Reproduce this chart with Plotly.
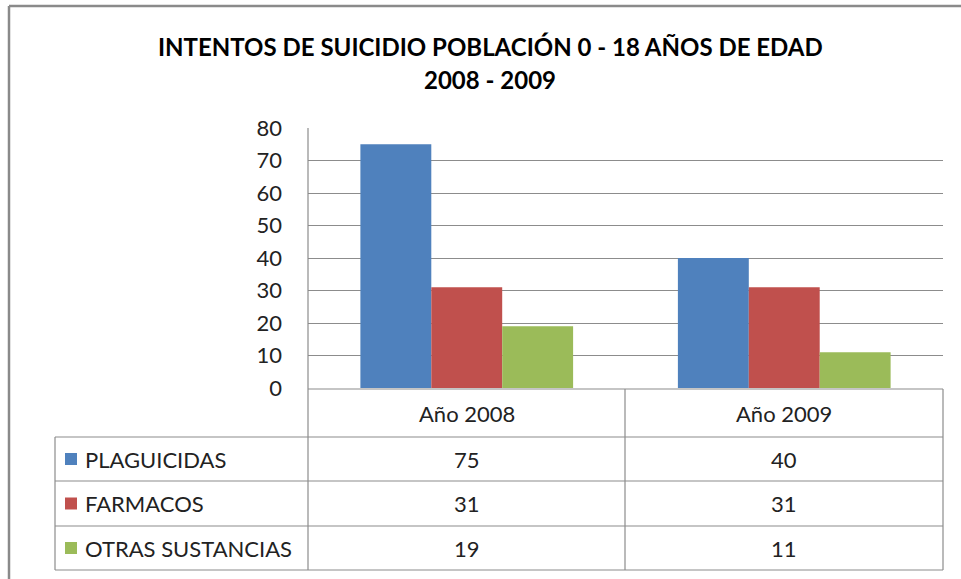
import plotly.graph_objects as go

categories = ["Año 2008", "Año 2009"]
series_names = ["PLAGUICIDAS", "FARMACOS", "OTRAS SUSTANCIAS"]
plaguicidas = [75, 40]
farmacos = [31, 31]
otras = [19, 11]
series_values = [plaguicidas, farmacos, otras]
colors = ["#4F81BD", "#C0504D", "#9BBB59"]
y_ticks = [0, 10, 20, 30, 40, 50, 60, 70, 80]

W, H = 961, 579
OFF = 0  # body margin removed via post_script
L, R, T, B = 308 - OFF, 943 - OFF, 128 - OFF, 388 - OFF  # plot area in figure px

def px(x):
    return (x - OFF - L) / (R - L)

def py(y):
    return (B - (y - OFF)) / (B - T)

fig = go.Figure()
for name, vals, c in zip(series_names, series_values, colors):
    fig.add_trace(go.Bar(x=categories, y=vals, name=name, marker=dict(color=c, line=dict(width=0))))

FONT = "Lato"
TXT = "#222222"
GRID = "#8c8c8c"
FS = 22

shapes = []
annotations = []
line = dict(color=GRID, width=1.2)

rows_y = [389, 437, 481, 526, 570]
shapes.append(dict(type="line", xref="paper", yref="paper", x0=px(308), x1=px(943), y0=py(389), y1=py(389), line=line))
for yy in rows_y[1:]:
    shapes.append(dict(type="line", xref="paper", yref="paper", x0=px(55), x1=px(943), y0=py(yy), y1=py(yy), line=line))
shapes.append(dict(type="line", xref="paper", yref="paper", x0=px(308), x1=px(308), y0=py(128), y1=py(570), line=line))
shapes.append(dict(type="line", xref="paper", yref="paper", x0=px(625), x1=px(625), y0=py(389), y1=py(570), line=line))
shapes.append(dict(type="line", xref="paper", yref="paper", x0=px(943), x1=px(943), y0=py(389), y1=py(570), line=line))
shapes.append(dict(type="line", xref="paper", yref="paper", x0=px(55), x1=px(55), y0=py(437), y1=py(570), line=line))

border = dict(color="#8a8a8a", width=2.5)
shapes.append(dict(type="line", xref="paper", yref="paper", x0=px(9), x1=px(975), y0=py(6), y1=py(6), line=border))
shapes.append(dict(type="line", xref="paper", yref="paper", x0=px(9), x1=px(9), y0=py(6), y1=py(590), line=border))

col_centers = [(308 + 625) / 2, (625 + 943) / 2]
for cat, cx in zip(categories, col_centers):
    annotations.append(dict(xref="paper", yref="paper", x=px(cx), y=py(413), text=cat, showarrow=False,
                            xanchor="center", yanchor="middle", font=dict(family=FONT, size=FS, color=TXT)))

for i, (name, vals, c) in enumerate(zip(series_names, series_values, colors)):
    y0, y1 = rows_y[i + 1], rows_y[i + 2]
    cy = (y0 + y1) / 2
    shapes.append(dict(type="rect", xref="paper", yref="paper", x0=px(65), x1=px(77), y0=py(cy - 6), y1=py(cy + 6),
                       fillcolor=c, line=dict(width=0)))
    annotations.append(dict(xref="paper", yref="paper", x=px(83), y=py(cy), text=name, showarrow=False,
                            xanchor="left", yanchor="middle", font=dict(family=FONT, size=FS, color=TXT)))
    for v, cx in zip(vals, col_centers):
        annotations.append(dict(xref="paper", yref="paper", x=px(cx), y=py(cy), text=str(v), showarrow=False,
                                xanchor="center", yanchor="middle", font=dict(family=FONT, size=FS, color=TXT)))

annotations.append(dict(xref="paper", yref="paper", x=px(490), y=py(46), text="<b>INTENTOS DE SUICIDIO POBLACIÓN 0 - 18 AÑOS DE EDAD</b>",
                        showarrow=False, xanchor="center", yanchor="middle", font=dict(family=FONT, size=24, color="#000000")))
annotations.append(dict(xref="paper", yref="paper", x=px(490), y=py(79), text="<b>2008 - 2009</b>",
                        showarrow=False, xanchor="center", yanchor="middle", font=dict(family=FONT, size=24, color="#000000")))

fig.update_layout(
    width=W, height=H,
    margin=dict(l=L, r=W - R, t=T, b=H - B, pad=0),
    paper_bgcolor="white", plot_bgcolor="white",
    barmode="group", bargap=0.33, bargroupgap=0,
    showlegend=False,
    shapes=shapes, annotations=annotations,
    xaxis=dict(showticklabels=False, showgrid=False, zeroline=False, showline=False, ticks=""),
    yaxis=dict(range=[0, 80], tickvals=y_ticks, showgrid=True, gridcolor=GRID, gridwidth=1.2,
               zeroline=False, showline=False, ticks="", ticklabelstandoff=25,
               tickfont=dict(family=FONT, size=FS, color=TXT)),
)

fig.write_html("out.html", config={"displayModeBar": False},
               post_script="document.body.style.margin='0';document.body.style.overflow='hidden';")
